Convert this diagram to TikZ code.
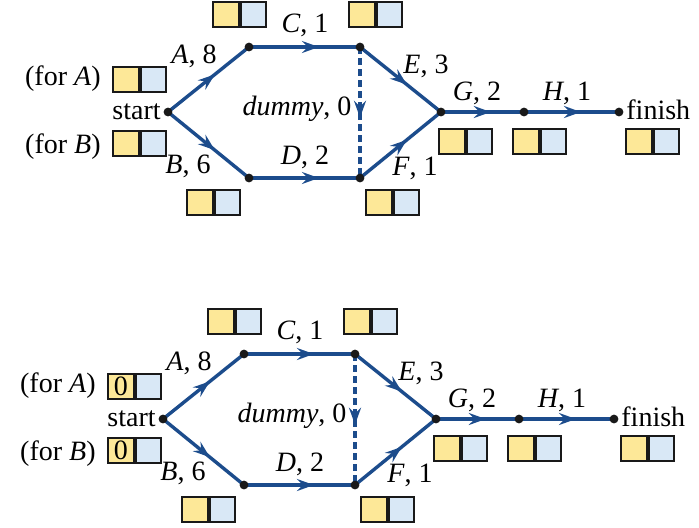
\documentclass[tikz,border=0pt]{standalone}
\usepackage{fontspec}
\setmainfont{Liberation Serif}
\newfontfamily\netfont{Liberation Serif}
\usetikzlibrary{arrows.meta,decorations.markings}
\definecolor{netblue}{RGB}{28,76,140}
\definecolor{boxyellow}{RGB}{253,232,152}
\definecolor{boxblue}{RGB}{217,232,246}
\tikzset{
  netedge/.style={draw=netblue, line width=1.7pt, postaction={decorate},
    decoration={markings, mark=at position #1 with {\arrow[netblue]{Stealth[length=8.5pt,width=6pt,inset=3pt]}}}},
  netedge/.default=0.58,
  dummyedge/.style={netedge=0.54, dash pattern=on 3.5pt off 2pt},
  dot/.style={circle, fill=black!90, inner sep=0pt, minimum size=4.4pt},
  halfbox/.style={draw=black!90, line width=1pt, minimum width=12.75pt, minimum height=12.5pt, inner sep=0pt, anchor=west},
  ybox/.style={halfbox, fill=boxyellow},
  bbox/.style={halfbox, fill=boxblue},
  lbl/.style={inner sep=0pt, anchor=base},
}
\newcommand\twobox[4]{%
  \node[ybox] (#1y) at (#2,#3) {#4};
  \node[bbox] (#1b) at (#1y.east) {};}
\newcommand\netdiagram[3]{%
\begin{scope}[shift={(#2)}]
  \coordinate (#1s) at (168,112);
  \coordinate (#1a) at (249,47);
  \coordinate (#1b) at (249,178);
  \coordinate (#1c) at (360,47);
  \coordinate (#1d) at (360,178);
  \coordinate (#1g) at (441,112);
  \coordinate (#1h) at (524,112);
  \coordinate (#1f) at (619,112);
  \draw[netedge=0.58] (#1s) -- (#1a);
  \draw[netedge=0.58] (#1s) -- (#1b);
  \draw[netedge=0.63] (#1a) -- (#1c);
  \draw[netedge=0.63] (#1b) -- (#1d);
  \draw[netedge=0.58] (#1c) -- (#1g);
  \draw[netedge=0.58] (#1d) -- (#1g);
  \draw[netedge=0.6] (#1g) -- (#1h);
  \draw[netedge=0.6] (#1h) -- (#1f);
  \draw[dummyedge] (#1c) -- (#1d);
  \foreach \p in {s,a,b,c,d,g,h,f} \node[dot] (#1dot\p) at (#1\p) {};
  \node[lbl, anchor=base east] (#1start) at (161,119) {start};
  \node[lbl, anchor=base west] (#1finish) at (626,119) {finish};
  \node[lbl, anchor=base east] (#1forA) at (101,85) {(for \textit{A})};
  \node[lbl, anchor=base east] (#1forB) at (101,153) {(for \textit{B})};
  \node[lbl] (#1la) at (194,63) {\textit{A}, 8};
  \node[lbl] (#1lb) at (188,173) {\textit{B}, 6};
  \node[lbl] (#1lc) at (305,32) {\textit{C}, 1};
  \node[lbl] (#1ld) at (305,164) {\textit{D}, 2};
  \node[lbl] (#1ldummy) at (297,115) {\textit{dummy}, 0};
  \node[lbl] (#1le) at (426,73) {\textit{E}, 3};
  \node[lbl] (#1lf) at (415,175) {\textit{F}, 1};
  \node[lbl] (#1lg) at (477,100) {\textit{G}, 2};
  \node[lbl] (#1lh) at (567,100) {\textit{H}, 1};
  \twobox{#1bxA}{112}{79}{#3}
  \twobox{#1bxB}{112}{143}{#3}
  \twobox{#1bxa}{212}{14}{}
  \twobox{#1bxb}{186}{202}{}
  \twobox{#1bxc}{348}{14}{}
  \twobox{#1bxd}{365}{202}{}
  \twobox{#1bxg}{438}{141.5}{}
  \twobox{#1bxh}{512}{141.5}{}
  \twobox{#1bxf}{625}{141.5}{}
\end{scope}}
\begin{document}
\begin{tikzpicture}[x=0.5pt, y=-0.5pt, font=\netfont\fontsize{14}{16}\selectfont]
  \useasboundingbox (0,0) rectangle (699,527);
  \netdiagram{up}{0,0}{}
  \netdiagram{lo}{-5,307}{0}
\end{tikzpicture}
\end{document}
